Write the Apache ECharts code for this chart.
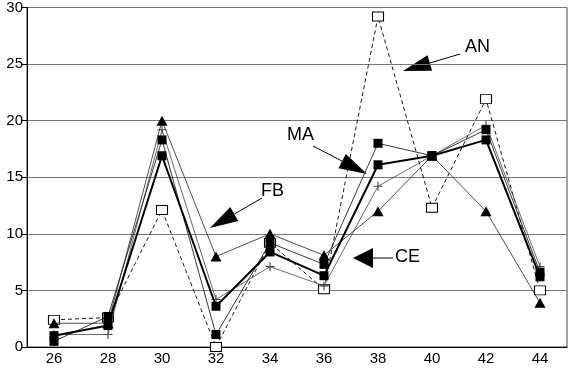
<!DOCTYPE html>
<html><head><meta charset="utf-8">
<script src="https://cdn.jsdelivr.net/npm/echarts@6/dist/echarts.min.js"></script>
<style>html,body{margin:0;padding:0;background:#fff}#c{width:570px;height:368px}</style>
</head><body><div id="c"></div>
<script>
const categories = ['26','28','30','32','34','36','38','40','42','44'];
const yTicks = [0,5,10,15,20,25,30];
const seriesAN = [2.4, 2.6, 12.1, 0, 9.2, 5.1, 29.2, 12.3, 21.9, 5.0];
const seriesTri = [2.1, 2.1, 20, 8, 10, 8.1, 12, 16.9, 12, 3.9];
const seriesThickSq = [1.0, 1.9, 16.9, 3.6, 8.4, 6.3, 16.1, 16.9, 18.3, 6.2];
const seriesThinSq = [0.5, 2.7, 18.3, 1.1, 9.2, 7.3, 18.0, 16.9, 19.2, 6.6];
const seriesPlus = [1.1, 1.1, 19.2, 4.2, 7.1, 5.4, 14.2, 16.9, 19.6, 7.1];
const labels = ['AN','MA','FB','CE'];

const chart = echarts.init(document.getElementById('c'), null, {renderer:'canvas'});
const font = 'Liberation Sans, Arial, Helvetica, sans-serif';
const plus = 'path://M0,44H100V56H0ZM44,0H56V100H44Z';
function arrow(x1,y1,x2,y2,len,half){
  const dx=x2-x1, dy=y2-y1, L=Math.hypot(dx,dy), ux=dx/L, uy=dy/L;
  const bx=x2-ux*len, by=y2-uy*len;
  return [
    {type:'line',shape:{x1:x1,y1:y1,x2:bx,y2:by},style:{stroke:'#000',lineWidth:1}},
    {type:'polygon',shape:{points:[[x2,y2],[bx-uy*half,by+ux*half],[bx+uy*half,by-ux*half]]},style:{fill:'#000'}}
  ];
}
const graphics = [].concat(
  [{type:'text',left:465,top:38,style:{text:labels[0],font:'18px '+font,fill:'#000'}}],
  arrow(460,54,403,71,28,8),
  [{type:'text',left:287,top:126,style:{text:labels[1],font:'18px '+font,fill:'#000'}}],
  arrow(313,146,367,174,28,8),
  [{type:'text',left:261,top:182,style:{text:labels[2],font:'18px '+font,fill:'#000'}}],
  arrow(262,198,210,228,28,8),
  [{type:'text',left:395,top:248,style:{text:labels[3],font:'18px '+font,fill:'#000'}}],
  arrow(393,258,353,258,20,10)
);
chart.setOption({
  animation:false,
  backgroundColor:'#fff',
  grid:{left:27,right:3,top:5,bottom:21,show:true,borderColor:'#444',borderWidth:1},
  xAxis:{type:'category',data:categories,boundaryGap:true,
    axisLine:{lineStyle:{color:'#000',width:1}},
    axisTick:{alignWithLabel:true,length:5,lineStyle:{color:'#000'}},
    axisLabel:{color:'#000',fontSize:15,fontFamily:font,margin:4},
    splitLine:{show:false}},
  yAxis:{type:'value',min:yTicks[0],max:yTicks[yTicks.length-1],interval:5,
    axisLine:{show:true,lineStyle:{color:'#000',width:1}},
    axisTick:{show:true,length:6,lineStyle:{color:'#000'}},
    axisLabel:{color:'#000',fontSize:15,fontFamily:font,margin:4},
    splitLine:{show:true,lineStyle:{color:'#777',width:1}}},
  series:[
    {name:'AN',type:'line',data:seriesAN,symbol:'rect',symbolSize:[11,9],
     lineStyle:{color:'#000',width:0.9,type:[4,3]},itemStyle:{color:'#fff',borderColor:'#000',borderWidth:1},z:2},
    {name:'plus',type:'line',data:seriesPlus,symbol:plus,symbolSize:9,
     lineStyle:{color:'#444',width:0.8},itemStyle:{color:'#444'},z:3},
    {name:'tri',type:'line',data:seriesTri,symbol:'triangle',symbolSize:[11,10],
     lineStyle:{color:'#222',width:0.8},itemStyle:{color:'#000'},z:4},
    {name:'thinSq',type:'line',data:seriesThinSq,symbol:'rect',symbolSize:9,
     lineStyle:{color:'#222',width:0.9},itemStyle:{color:'#000'},z:5},
    {name:'thickSq',type:'line',data:seriesThickSq,symbol:'rect',symbolSize:9,
     lineStyle:{color:'#000',width:2},itemStyle:{color:'#000'},z:6}
  ],
  graphic:graphics
});
</script></body></html>
